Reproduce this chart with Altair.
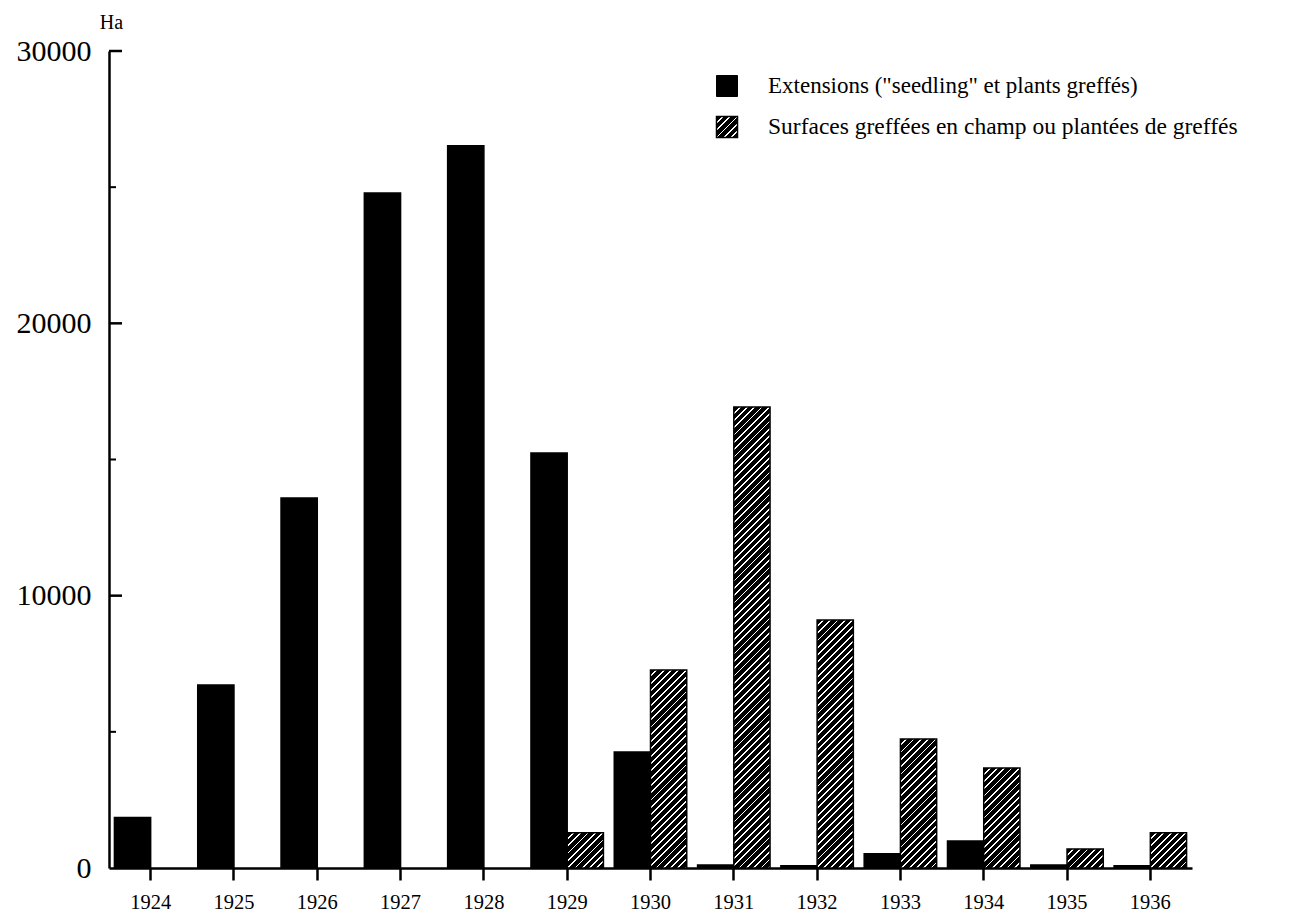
import altair as alt
import pandas as pd

# ---------------- data ----------------
YEARS = ["1924", "1925", "1926", "1927", "1928", "1929", "1930",
         "1931", "1932", "1933", "1934", "1935", "1936"]
EXTENSIONS = [1850, 6720, 13590, 24790, 26520, 15240, 4260,
              110, 80, 520, 990, 110, 80]
GREFFEES = [None, None, None, None, None, 1290, 7270,
            16930, 9110, 4740, 3670, 700, 1290]
SERIES = ['Extensions ("seedling" et plants greffés)',
          "Surfaces greffées en champ ou plantées de greffés"]
SERIES_KEYS = ["A", "B"]
Y_LABEL_VALUES = [0, 10000, 20000, 30000]
Y_MAJOR_TICKS = [10000, 20000, 30000]
Y_MINOR_TICKS = [5000, 15000, 25000]
Y_MAX = 30000

rows = []
for yr, a, b in zip(YEARS, EXTENSIONS, GREFFEES):
    if a is not None:
        rows.append({"year": yr, "k": "A", "ha": a})
    if b is not None:
        rows.append({"year": yr, "k": "B", "ha": b})
bars_df = pd.DataFrame(rows)
legend_df = pd.DataFrame({"label": SERIES, "k": SERIES_KEYS})
major_df = pd.DataFrame({"ha": Y_MAJOR_TICKS})
minor_df = pd.DataFrame({"ha": Y_MINOR_TICKS})

# ---------------- layout / style ----------------
W, H = 1083, 817
PAD = {"left": 101, "top": 43, "right": 92, "bottom": 46}
SERIF = "Liberation Serif"
PAD_INNER = 0.13
BAR_W = W / len(YEARS) * (1 - PAD_INNER) / 2

# diagonal hatch built as a hard-stop linear gradient
N_STRIPES, STRIPE_STEP, WHITE_FRAC = 72, 7.3, 0.25
L = N_STRIPES * STRIPE_STEP


def hatch_expr(w, h):
    stops = []
    for i in range(N_STRIPES):
        a = i / N_STRIPES
        b = (i + 1 - WHITE_FRAC) / N_STRIPES
        c = (i + 1) / N_STRIPES
        stops += [f"{{offset:{a:.5f},color:'#000'}}",
                  f"{{offset:{b:.5f},color:'#000'}}",
                  f"{{offset:{b:.5f},color:'#fff'}}",
                  f"{{offset:{c:.5f},color:'#fff'}}"]
    den = f"(({w})*({w})+({h})*({h}))"
    return (f"{{gradient:'linear',x1:0,y1:0,"
            f"x2:{L}*({w})/{den},y2:{L}*({h})/{den},"
            f"stops:[{','.join(stops)}]}}")


bar_h = f"max(1,datum.ha*{H}/{Y_MAX})"
bar_fill = f"datum.k=='B' ? {hatch_expr(f'{BAR_W:.3f}', bar_h)} : '#000'"
legend_fill = hatch_expr("21", "21")

Y_AXIS = alt.Axis(values=Y_LABEL_VALUES, format="d", ticks=False,
                  labelPadding=18, labelFont=SERIF, labelFontSize=30,
                  labelColor="black", domainColor="black",
                  domainWidth=2.5, grid=False,
                  title="Ha", titleAngle=0, titleX=2, titleY=-29,
                  titleAlign="center", titleBaseline="middle",
                  titleFont=SERIF, titleFontSize=20,
                  titleFontWeight="normal", titleColor="black")
Y_SCALE = alt.Scale(domain=[0, Y_MAX], nice=False, zero=True)

# ---------------- chart ----------------
bars = alt.Chart(bars_df).mark_bar(
    fill=alt.ExprRef(expr=bar_fill), stroke="black", strokeWidth=1.5, opacity=1
).encode(
    x=alt.X("year:N", sort=YEARS,
            scale=alt.Scale(paddingInner=PAD_INNER, paddingOuter=PAD_INNER / 2),
            axis=alt.Axis(title=None, labelAngle=0, labelFont=SERIF,
                          labelFontSize=20.5, labelColor="black", labelPadding=12,
                          tickSize=12, tickWidth=2.5, tickColor="black",
                          domainColor="black", domainWidth=2.5, grid=False)),
    xOffset=alt.XOffset("k:N", scale=alt.Scale(domain=SERIES_KEYS)),
    y=alt.Y("ha:Q", stack=None, scale=Y_SCALE, axis=Y_AXIS),
)

major = alt.Chart(major_df).mark_rule(color="black", strokeWidth=2.5).encode(
    y=alt.Y("ha:Q", scale=Y_SCALE, axis=Y_AXIS), x=alt.value(0), x2=alt.value(13))
minor = alt.Chart(minor_df).mark_rule(color="black", strokeWidth=2).encode(
    y=alt.Y("ha:Q", scale=Y_SCALE, axis=Y_AXIS), x=alt.value(0), x2=alt.value(7))

LEG_SQ_X, LEG_TXT_X, LEG_Y = 618, 659, [35, 76]

leg_sq_a = alt.Chart(legend_df).transform_filter(alt.datum.k == "A").mark_square(
    size=441, fill="black", stroke="black", strokeWidth=1, opacity=1
).encode(x=alt.value(LEG_SQ_X), y=alt.value(LEG_Y[0]))
leg_sq_b = alt.Chart(legend_df).transform_filter(alt.datum.k == "B").mark_square(
    size=441, fill=alt.ExprRef(expr=legend_fill), stroke="black", strokeWidth=1.5,
    opacity=1
).encode(x=alt.value(LEG_SQ_X), y=alt.value(LEG_Y[1]))
leg_txt_a = alt.Chart(legend_df).transform_filter(alt.datum.k == "A").mark_text(
    align="left", baseline="middle", font=SERIF, fontSize=23, color="black"
).encode(text="label:N", x=alt.value(LEG_TXT_X), y=alt.value(LEG_Y[0]))
leg_txt_b = alt.Chart(legend_df).transform_filter(alt.datum.k == "B").mark_text(
    align="left", baseline="middle", font=SERIF, fontSize=23.5, color="black"
).encode(text="label:N", x=alt.value(LEG_TXT_X), y=alt.value(LEG_Y[1]))

chart = alt.layer(
    bars, major, minor, leg_sq_a, leg_sq_b, leg_txt_a, leg_txt_b
).properties(
    width=W, height=H,
    autosize=alt.AutoSizeParams(type="none"),
    padding=PAD,
    background="white",
).configure_view(stroke=None)

chart.save("out.html", embed_options={"renderer": "svg", "actions": False})
